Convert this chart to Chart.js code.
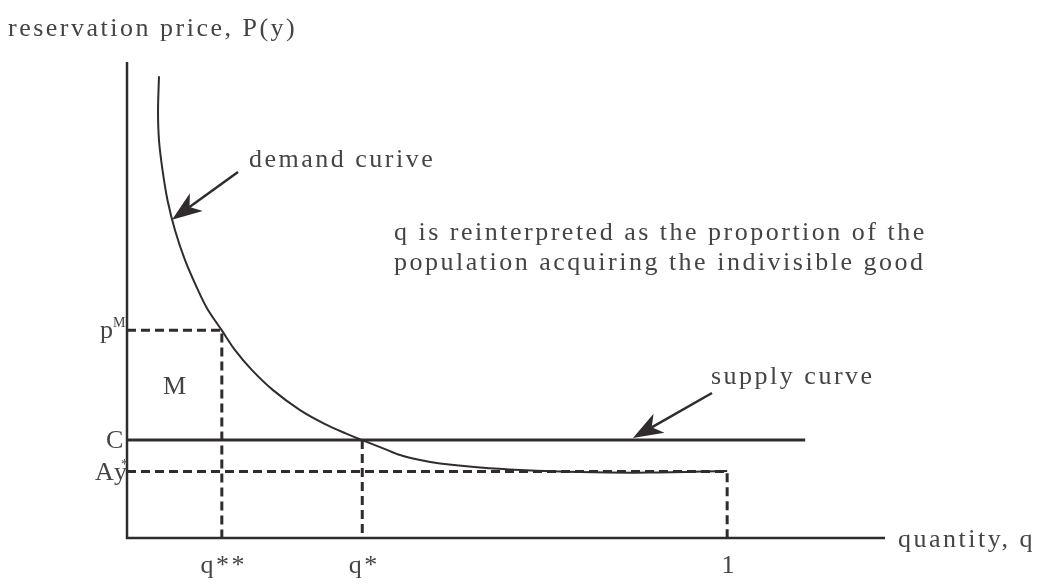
<!DOCTYPE html>
<html>
<head>
<meta charset="utf-8">
<script src="https://cdn.jsdelivr.net/npm/chart.js@4"></script>
<style>
  html, body { margin: 0; padding: 0; background: #fff; }
  #wrap { width: 1038px; height: 586px; }
</style>
</head>
<body>
<div id="wrap"><canvas id="diagram"></canvas></div>
<script>
// demand curve, quantity share vs reservation price
const demandQ = [0.0533, 0.0517, 0.0533, 0.0592, 0.0675, 0.08, 0.0967, 0.1183, 0.135, 0.158, 0.18, 0.2083, 0.2433, 0.2883, 0.33, 0.3633, 0.392, 0.43, 0.455, 0.4883, 0.5217, 0.5883, 0.655, 0.755, 0.8717, 1.0];
const demandP = [4.714, 4.367, 4.061, 3.755, 3.449, 3.143, 2.837, 2.531, 2.327, 2.12, 1.918, 1.714, 1.51, 1.306, 1.163, 1.071, 1.0, 0.908, 0.847, 0.796, 0.76, 0.719, 0.694, 0.673, 0.668, 0.684];

// supply curve (flat at cost C)
const supplyLevel = 1.0;
const supplyEnd = 1.13;

// reference levels on the axes
const qMarks = [0.158, 0.392, 1.0];          // q**, q*, 1
const qLabels = ['q**', 'q*', '1'];
const pMonopoly = 2.12;                       // p^M
const ayLevel = 0.68;                         // Ay*

// axis extents
const xMax = 1.263;
const yMax = 4.86;

const INK = '#302c2d';
const TEXT = '#444';
const FONT = '"Liberation Serif", "DejaVu Serif", serif';
const SPACING = '2.5px';

const pts = (xs, ys) => xs.map((x, i) => ({ x: x, y: ys[i] }));

const demandData = pts(demandQ, demandP);
const supplyData = [{ x: 0, y: supplyLevel }, { x: supplyEnd, y: supplyLevel }];
const monopolyData = [{ x: 0, y: pMonopoly }, { x: qMarks[0], y: pMonopoly }, { x: qMarks[0], y: 0 }];
const qStarData = [{ x: qMarks[1], y: supplyLevel }, { x: qMarks[1], y: 0 }];
const ayData = [{ x: 0, y: ayLevel }, { x: qMarks[2], y: ayLevel }, { x: qMarks[2], y: 0 }];
const axesData = [{ x: 0, y: yMax }, { x: 0, y: 0 }, { x: xMax, y: 0 }];

// straight shaft with a filled, notched head at (x1, y1)
function arrow(ctx, x0, y0, x1, y1) {
    const ang = Math.atan2(y1 - y0, x1 - x0);
    const c = Math.cos(ang), s = Math.sin(ang);
    const head = 30, half = 11, notch = 0.72 * head;
    const bx = x1 - head * c, by = y1 - head * s;
    ctx.beginPath();
    ctx.moveTo(x0, y0);
    ctx.lineTo(x1 - notch * c, y1 - notch * s);
    ctx.lineWidth = 2.5;
    ctx.strokeStyle = INK;
    ctx.stroke();
    ctx.beginPath();
    ctx.moveTo(x1, y1);
    ctx.lineTo(bx + half * s, by - half * c);
    ctx.lineTo(x1 - notch * c, y1 - notch * s);
    ctx.lineTo(bx - half * s, by + half * c);
    ctx.closePath();
    ctx.fillStyle = INK;
    ctx.fill();
}

// labels and arrows placed from the scales
const labelsPlugin = {
    id: 'labels',
    afterDatasetsDraw(chart) {
        const { ctx, scales: { x, y } } = chart;
        const big = '26px ' + FONT, small = '14px ' + FONT;
        ctx.save();
        ctx.fillStyle = TEXT;
        ctx.textBaseline = 'alphabetic';
        ctx.letterSpacing = SPACING;

        ctx.font = big;
        ctx.textAlign = 'left';
        ctx.fillText('reservation price, P(y)', 8, 36);
        ctx.fillText('quantity, q', x.getPixelForValue(xMax) + 13, y.getPixelForValue(0) + 9);

        // x tick labels
        ctx.textAlign = 'center';
        qLabels.forEach((t, i) => {
            ctx.fillText(t, x.getPixelForValue(qMarks[i]) + 2, y.getPixelForValue(0) + 35);
        });

        // y tick labels
        const x0 = x.getPixelForValue(0);
        ctx.textAlign = 'left';
        ctx.fillText('p', x0 - 27, y.getPixelForValue(pMonopoly) + 8);
        ctx.font = small;
        ctx.fillText('M', x0 - 14, y.getPixelForValue(pMonopoly) - 3);
        ctx.font = big;
        ctx.fillText('C', x0 - 21, y.getPixelForValue(supplyLevel) + 8);
        ctx.fillText('Ay', x0 - 32, y.getPixelForValue(ayLevel) + 9);
        ctx.font = small;
        ctx.fillText('*', x0 - 6, y.getPixelForValue(ayLevel) - 2);

        ctx.font = big;
        ctx.fillText('M', x0 + 36, y.getPixelForValue((pMonopoly + supplyLevel) / 2) + 9);

        ctx.fillText('demand curive', 249, 167);
        ctx.fillText('q is reinterpreted as the proportion of the', 394, 240);
        ctx.fillText('population acquiring the indivisible good', 394, 270);
        ctx.fillText('supply curve', 711, 384);

        // arrows
        const dTip = { x: x.getPixelForValue(0.075), y: y.getPixelForValue(3.25) };
        arrow(ctx, 238, 172, dTip.x, dTip.y);
        const sTip = { x: x.getPixelForValue(0.843), y: y.getPixelForValue(supplyLevel) - 2 };
        arrow(ctx, 712, 393, sTip.x, sTip.y);

        ctx.restore();
    }
};

const line = (data, extra) => Object.assign({
    data: data,
    showLine: true,
    borderColor: INK,
    borderWidth: 3,
    pointRadius: 0,
    fill: false,
    clip: false,
    tension: 0
}, extra);

new Chart(document.getElementById('diagram').getContext('2d'), {
    type: 'scatter',
    data: {
        datasets: [
            line(axesData, { borderWidth: 2.5 }),
            line(monopolyData, { borderDash: [9, 5] }),
            line(qStarData, { borderDash: [9, 5] }),
            line(ayData, { borderDash: [9, 5] }),
            line(supplyData, { borderWidth: 3 }),
            line(demandData, { borderWidth: 2, tension: 0.3 })
        ]
    },
    options: {
        responsive: true,
        maintainAspectRatio: false,
        animation: false,
        layout: { padding: { left: 127, right: 153, top: 62, bottom: 48 } },
        plugins: {
            legend: { display: false },
            tooltip: { enabled: false }
        },
        scales: {
            x: { type: 'linear', min: 0, max: xMax, display: false },
            y: { type: 'linear', min: 0, max: yMax, display: false }
        }
    },
    plugins: [labelsPlugin]
});
</script>
</body>
</html>
